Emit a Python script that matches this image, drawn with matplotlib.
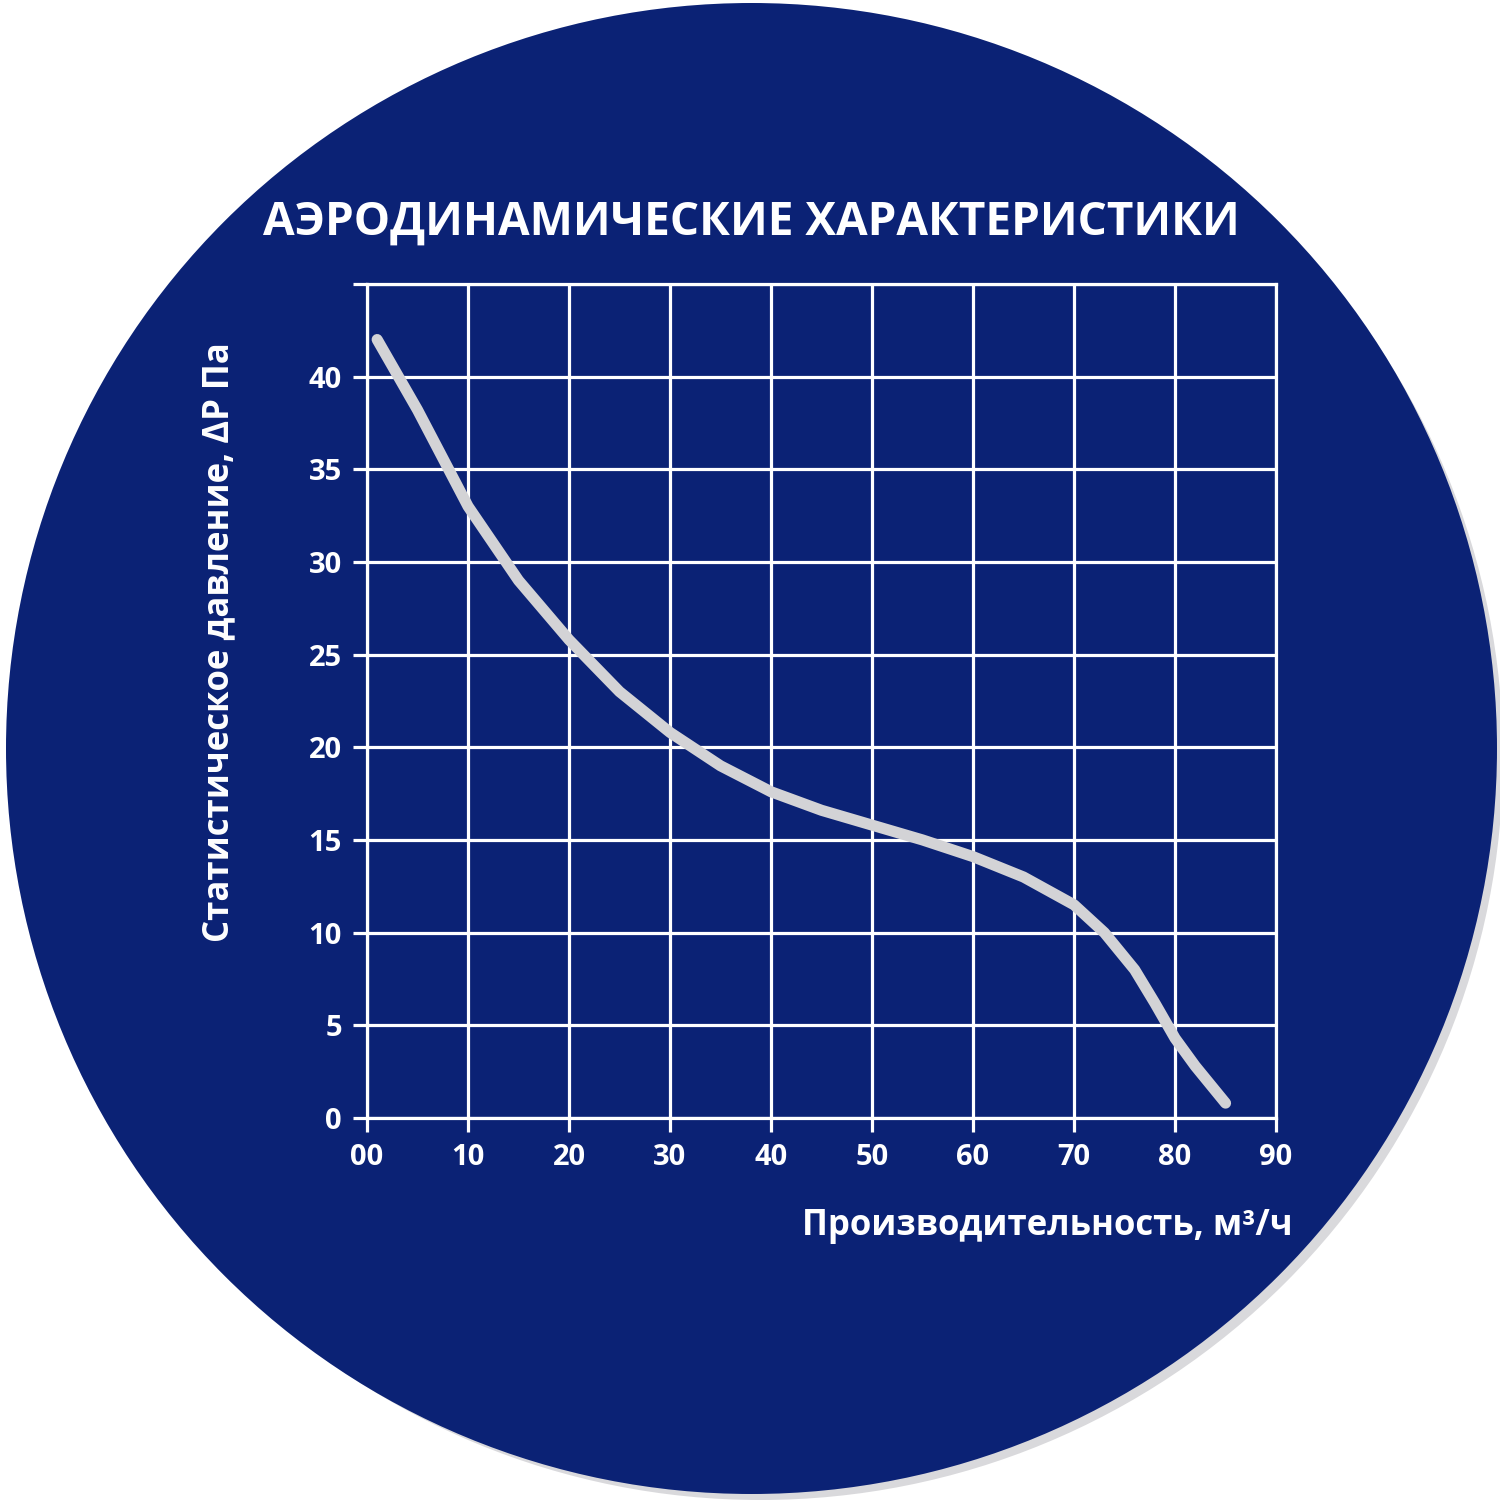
import matplotlib.pyplot as plt
from matplotlib.patches import Circle, Ellipse

# данные кривой (производительность, давление)
flow = [1, 5, 10, 15, 20, 25, 30, 35, 40, 45, 50, 55, 60, 65, 70, 73, 76, 78, 80, 82, 85]
pressure = [42, 38.2, 33, 29, 25.8, 23, 20.8, 19, 17.6, 16.6, 15.8, 15, 14.1, 13, 11.5, 10, 8, 6.2, 4.3, 2.8, 0.8]
x_ticks = [0, 10, 20, 30, 40, 50, 60, 70, 80, 90]
x_labels = ['00', '10', '20', '30', '40', '50', '60', '70', '80', '90']
y_ticks = [0, 5, 10, 15, 20, 25, 30, 35, 40, 45]
y_labels = ['0', '5', '10', '15', '20', '25', '30', '35', '40', '']

plt.rcParams['font.family'] = ['Open Sans', 'DejaVu Sans']
fig = plt.figure(figsize=(15, 15), dpi=100)
fig.patch.set_facecolor('white')

# тень и круг
fig.patches.append(Ellipse((0.507, 0.495), 0.99, 0.99, transform=fig.transFigure,
                           facecolor='#d9d9dc', edgecolor='none', zorder=0))
fig.patches.append(Circle((0.501, 0.501), 0.497, transform=fig.transFigure,
                          facecolor='#0b2275', edgecolor='none', zorder=1))

ax = fig.add_axes([0.2447, 0.2547, 0.606, 0.556])
ax.set_facecolor('none')
ax.set_zorder(2)
ax.set_xlim(0, 90)
ax.set_ylim(0, 45)
ax.set_xticks(x_ticks)
ax.set_xticklabels(x_labels)
ax.set_yticks(y_ticks)
ax.set_yticklabels(y_labels)
ax.grid(True, color='white', linewidth=2.3)
for s in ax.spines.values():
    s.set_color('white')
    s.set_linewidth(2.3)
ax.tick_params(colors='white', width=2.3, length=10, labelsize=21, pad=8)
for lab in ax.get_xticklabels() + ax.get_yticklabels():
    lab.set_fontweight('bold')

ax.plot(flow, pressure, color='#d3d3d6', linewidth=8, solid_capstyle='round', zorder=5)

fig.text(0.501, 0.852, 'АЭРОДИНАМИЧЕСКИЕ ХАРАКТЕРИСТИКИ', color='white', fontsize=33,
         fontweight='bold', ha='center', va='center', zorder=3)
fig.text(0.146, 0.572, 'Статистическое давление, ΔР Па', color='white', fontsize=25,
         fontweight='bold', rotation=90, ha='center', va='center', zorder=3)
fig.text(0.862, 0.183, 'Производительность, м³/ч', color='white', fontsize=25,
         fontweight='bold', ha='right', va='center', zorder=3)

fig.savefig('out.png', dpi=100, facecolor='white')
